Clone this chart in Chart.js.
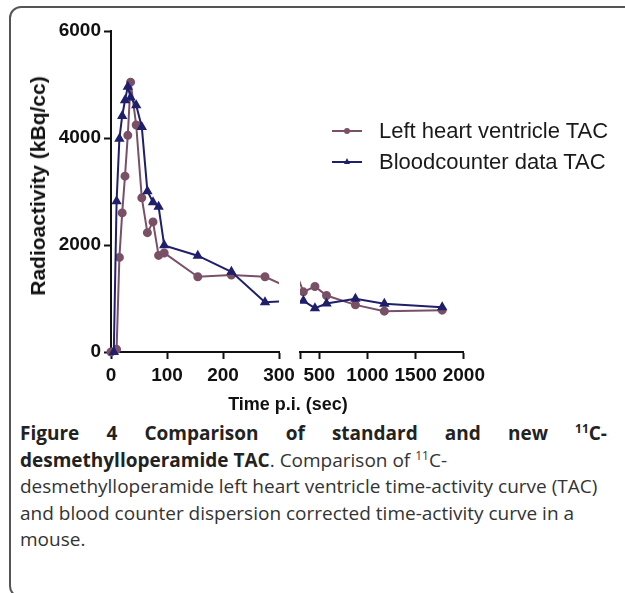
<!DOCTYPE html>
<html>
<head>
<meta charset="utf-8">
<script src="https://cdn.jsdelivr.net/npm/chart.js@4.4.1/dist/chart.umd.min.js"></script>
<style>
  html, body { margin: 0; padding: 0; background: #fff; }
  body { width: 625px; height: 593px; position: relative; overflow: hidden; }
  .frame {
    position: absolute; left: 9px; top: 6px; width: 640px; height: 592px;
    border: 2px solid #555; border-radius: 12px; box-sizing: border-box;
  }
  canvas { position: absolute; top: 0; }
  #leftChart { left: 0; }
  #rightChart { left: 290px; }
  .ytitle {
    position: absolute; left: 38px; top: 186px;
    transform: translate(-50%, -50%) rotate(-90deg);
    font: bold 21px "Liberation Sans", Arial, sans-serif; color: #111; white-space: nowrap;
  }
  .xtitle {
    position: absolute; left: 288px; top: 404px; transform: translate(-50%, -50%);
    font: bold 18px "Liberation Sans", Arial, sans-serif; color: #111; white-space: nowrap;
  }
  .legend { position: absolute; left: 332px; top: 115px; font: 22px "Liberation Sans", Arial, sans-serif; color: #1a1a1a; }
  .legend .item { display: flex; align-items: center; height: 31px; }
  .legend .key { position: relative; width: 30px; height: 2px; margin-right: 17px; }
  .legend .dot { position: absolute; left: 12px; top: -2px; width: 6px; height: 6px; border-radius: 50%; }
  .legend .tri { position: absolute; left: 12px; top: -3px; width: 0; height: 0;
    border-left: 3px solid transparent; border-right: 3px solid transparent; border-bottom: 6px solid; }
  .caption { position: absolute; left: 20px; top: 420px; width: 587px; font: 19px "Open Sans", sans-serif; color: #333; line-height: 26.5px; }
  .caption b { color: #222; }
  .caption .first { text-align: justify; text-align-last: justify; font-weight: bold; color: #222; }
  .caption sup { font-size: 12px; line-height: 0; vertical-align: 7px; }
</style>
</head>
<body>
<div class="frame"></div>
<canvas id="leftChart" width="300" height="400"></canvas>
<canvas id="rightChart" width="200" height="400"></canvas>
<div class="ytitle">Radioactivity (kBq/cc)</div>
<div class="xtitle">Time p.i. (sec)</div>
<div class="legend" id="legend"></div>
<div class="caption">
  <div class="first">Figure 4 Comparison of standard and new <sup>11</sup>C-</div>
  <b>desmethylloperamide TAC</b>. Comparison of <sup>11</sup>C-<br>
  desmethylloperamide left heart ventricle time-activity curve (TAC)<br>
  and blood counter dispersion corrected time-activity curve in a<br>
  mouse.
</div>
<script>
"use strict";
// Left heart ventricle TAC (sec, kBq/cc)
const timesLV = [0, 10, 15, 20, 25, 30, 35, 45, 55, 65, 75, 85, 95, 155, 215, 275, 335, 455, 575, 875, 1175, 1775];
const valuesLV = [0, 50, 1768, 2600, 3287, 4050, 5044, 4243, 2882, 2231, 2432, 1806, 1851, 1406, 1438, 1406, 1125, 1224, 1056, 881, 763, 782];
// Bloodcounter data TAC
const timesBC = [5, 10, 15, 20, 25, 30, 35, 45, 55, 65, 75, 85, 95, 155, 215, 275, 335, 455, 575, 875, 1175, 1775];
const valuesBC = [0, 2818, 3988, 4412, 4706, 4956, 4757, 4613, 4206, 3006, 2800, 2713, 1993, 1800, 1500, 932, 956, 819, 906, 994, 900, 838];

const seriesNames = ['Left heart ventricle TAC', 'Bloodcounter data TAC'];
const seriesColors = ['#7a5067', '#1f1f6c'];
const leftTicks = [0, 100, 200, 300];
const rightTicks = [300, 500, 1000, 1500, 2000];
const yTicks = [0, 2000, 4000, 6000];

const tickFont = { family: '"Liberation Sans", Arial, sans-serif', size: 19, weight: 'bold' };

function toPoints(xs, ys) {
    return xs.map((x, i) => ({ x, y: ys[i] }));
}

// hide markers that fall outside this segment of the broken axis
function radiusIn(min, max, r) {
    return ctx => {
        const p = ctx.raw;
        return p && p.x >= min && p.x <= max ? r : 0;
    };
}

function makeDatasets(min, max, clip) {
    return [
        {
            label: seriesNames[1],
            data: toPoints(timesBC, valuesBC),
            borderColor: seriesColors[1],
            backgroundColor: seriesColors[1],
            borderWidth: 2,
            pointStyle: 'triangle',
            pointRadius: radiusIn(min, max, 4),
            tension: 0,
            clip
        },
        {
            label: seriesNames[0],
            data: toPoints(timesLV, valuesLV),
            borderColor: seriesColors[0],
            backgroundColor: seriesColors[0],
            borderWidth: 2,
            pointStyle: 'circle',
            pointRadius: radiusIn(min, max, 3.5),
            tension: 0,
            clip
        }
    ];
}

function xScale(min, max, ticks, hideFirst) {
    return {
        type: 'linear',
        min, max,
        afterBuildTicks: s => { s.ticks = ticks.map(v => ({ value: v })); },
        afterFit: s => { s.height = 48; },
        border: { display: true, color: '#111', width: 2 },
        grid: { drawOnChartArea: false, drawTicks: true, tickLength: 7, tickColor: '#111', tickWidth: 2 },
        ticks: {
            font: tickFont, color: '#111', padding: 5, maxRotation: 0, autoSkip: false,
            callback: v => (hideFirst && v === min) ? '' : String(v)
        }
    };
}

const yScaleShown = {
    min: 0, max: 6000,
    afterBuildTicks: s => { s.ticks = yTicks.map(v => ({ value: v })); },
    afterFit: s => { s.width = 111; },
    border: { display: true, color: '#111', width: 2 },
    grid: { drawOnChartArea: false, drawTicks: true, tickLength: 7, tickColor: '#111', tickWidth: 2 },
    ticks: { font: tickFont, color: '#111', padding: 3, callback: v => String(v) }
};

const common = {
    responsive: false,
    animation: false,
    events: [],
    plugins: { legend: { display: false }, tooltip: { enabled: false } }
};

new Chart(document.getElementById('leftChart').getContext('2d'), {
    type: 'line',
    data: { datasets: makeDatasets(0, 300, { left: 6, right: 0, top: 0, bottom: 6 }) },
    options: Object.assign({}, common, {
        layout: { padding: { left: 0, right: 21, top: 31, bottom: 0 } },
        scales: { x: xScale(0, 300, leftTicks, false), y: yScaleShown }
    })
});

new Chart(document.getElementById('rightChart').getContext('2d'), {
    type: 'line',
    data: { datasets: makeDatasets(300, 2000, { left: 0, right: 6, top: 0, bottom: 6 }) },
    options: Object.assign({}, common, {
        layout: { padding: { left: 10, right: 23, top: 31, bottom: 0 } },
        scales: {
            x: xScale(300, 2000, rightTicks, true),
            y: { min: 0, max: 6000, display: false }
        }
    })
});

// legend
const legend = document.getElementById('legend');
seriesNames.forEach((name, i) => {
    const item = document.createElement('div');
    item.className = 'item';
    const key = document.createElement('div');
    key.className = 'key';
    key.style.background = seriesColors[i];
    const mark = document.createElement('div');
    mark.className = i === 0 ? 'dot' : 'tri';
    if (i === 0) mark.style.background = seriesColors[i];
    else mark.style.color = seriesColors[i];
    key.appendChild(mark);
    const label = document.createElement('span');
    label.textContent = name;
    item.appendChild(key);
    item.appendChild(label);
    legend.appendChild(item);
});
</script>
</body>
</html>
